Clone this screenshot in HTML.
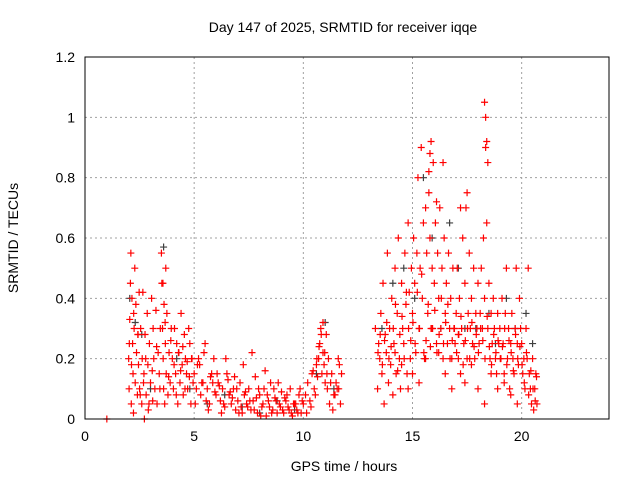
<!DOCTYPE html>
<html><head><meta charset="utf-8">
<style>
body{margin:0;background:#fff;}
svg{display:block;font-family:"Liberation Sans",sans-serif;}
</style></head>
<body>
<svg id="chart" width="640" height="480" viewBox="0 0 640 480" xmlns="http://www.w3.org/2000/svg">
<rect x="0" y="0" width="640" height="480" fill="#fff"/>
<text x="343" y="32" font-size="14" text-anchor="middle">Day 147 of 2025, SRMTID for receiver iqqe</text>
<text x="344" y="471" font-size="14" text-anchor="middle">GPS time / hours</text>
<text transform="translate(18,238) rotate(-90)" font-size="14" text-anchor="middle">SRMTID / TECUs</text>
<g id="grid"></g>
<g id="ticks"></g>
<g id="gray"></g>
<g id="red"></g>
<rect x="85" y="57" width="524" height="362" fill="none" stroke="#000" stroke-width="1"/>
</svg>
<script>
const xTicks=[0,5,10,15,20];
const xTickLabels=["0","5","10","15","20"];
const yTicks=[0,0.2,0.4,0.6,0.8,1,1.2];
const yTickLabels=["0","0.2","0.4","0.6","0.8","1","1.2"];
const redT=[1.0,
2.0,2.02,2.05,2.08,2.1,2.12,2.15,2.18,2.2,2.22,2.25,2.28,2.3,2.33,2.36,2.4,2.42,2.45,2.48,2.5,
2.55,2.6,2.62,2.65,2.7,2.72,2.75,2.8,2.85,2.88,2.9,2.95,3.0,3.05,3.1,3.12,3.15,3.2,3.25,3.3,3.35,3.4,3.45,
3.5,3.52,3.55,3.58,3.6,3.62,3.65,3.68,3.7,3.72,3.75,3.8,3.85,3.9,3.95,
4.0,4.05,4.1,4.15,4.2,4.25,4.3,4.35,4.4,4.45,4.5,4.55,4.6,4.65,4.7,4.75,4.8,4.85,4.9,4.95,
5.0,5.1,5.2,5.3,5.4,5.5,5.6,5.7,5.8,5.9,6.0,6.1,6.2,6.3,6.4,6.5,6.6,6.7,6.8,6.9,
7.0,7.1,7.2,7.3,7.4,7.5,7.6,7.7,7.8,7.9,8.0,8.1,8.2,8.3,8.4,8.5,8.6,8.7,8.8,8.9,9.0,9.1,9.2,9.3,9.4,9.5,9.6,9.7,9.8,9.9,
5.05,5.25,5.45,5.65,5.85,6.05,6.25,6.45,6.65,6.85,7.05,7.25,7.45,7.65,7.85,8.05,8.25,8.45,8.65,8.85,9.05,9.25,9.45,9.65,9.85,
10.0,10.1,10.2,10.3,10.4,10.5,10.6,10.7,10.75,10.8,10.85,10.9,10.95,11.0,11.05,11.1,11.2,11.3,11.4,11.5,11.6,11.7,11.75,
10.15,10.35,10.55,10.65,10.9,11.15,11.35,11.55,11.65,
13.3,13.4,13.45,13.5,13.55,13.6,13.65,13.7,13.75,13.8,13.85,13.9,13.95,14.0,14.05,14.1,14.15,14.2,14.25,14.3,14.35,14.4,14.45,14.5,14.55,14.6,14.65,14.7,14.75,14.8,14.85,14.9,14.95,
15.0,15.05,15.1,15.15,15.2,15.25,15.3,15.35,15.4,15.45,15.5,15.55,15.6,15.65,15.7,15.75,15.8,15.85,15.9,15.95,
16.0,16.05,16.1,16.15,16.2,16.25,16.3,16.35,16.4,16.45,16.5,16.55,16.6,16.65,16.7,16.75,16.8,16.85,16.9,16.95,
17.0,17.05,17.1,17.15,17.2,17.25,17.3,17.35,17.4,17.45,17.5,17.55,17.6,17.65,17.7,17.75,17.8,17.85,17.9,17.95,
18.0,18.05,18.1,18.15,18.2,18.25,18.3,18.35,18.4,18.45,18.5,18.55,18.6,18.65,18.7,18.75,18.8,18.85,18.9,18.95,
19.0,19.05,19.1,19.15,19.2,19.25,19.3,19.35,19.4,19.45,19.5,19.55,19.6,19.65,19.7,19.75,19.8,19.85,19.9,19.95,
20.0,20.05,20.1,20.15,20.2,20.25,20.3,20.35,20.4,20.45,20.5,20.55,20.6,20.65,20.7,
14.2,14.5,14.8,15.0,15.3,15.6,15.9,16.2,16.5,16.8,17.1,17.4,17.7,18.0,18.3,18.6,18.9,19.2,19.5,19.8,
15.75,15.8,15.85,16.1,16.4,17.2,17.5,18.3,18.35,18.4,18.45,
2.03,2.13,2.23,2.43,2.53,2.68,2.78,2.93,3.08,3.28,3.43,3.57,3.67,3.83,3.93,4.08,4.18,4.28,4.38,4.48,4.58,4.68,4.78,4.88,
5.15,5.35,5.55,5.75,5.95,6.15,6.35,6.55,6.75,6.95,7.15,7.35,7.55,7.75,7.95,8.15,8.35,8.55,8.75,8.95,9.15,9.35,9.55,9.75,9.95,
10.45,10.62,10.72,10.82,10.98,11.08,11.25,11.45,11.62,
13.42,13.52,13.62,13.72,13.82,13.92,14.02,14.12,14.22,14.32,14.42,14.52,14.62,14.72,14.82,14.92,
15.02,15.12,15.22,15.32,15.42,15.52,15.62,15.72,15.82,15.92,16.02,16.12,16.22,16.32,16.42,16.52,16.62,16.72,16.82,16.92,
17.02,17.12,17.22,17.32,17.42,17.52,17.62,17.72,17.82,17.92,18.02,18.12,18.22,18.32,18.42,18.52,18.62,18.72,18.82,18.92,
19.02,19.12,19.22,19.32,19.42,19.52,19.62,19.72,19.82,19.92,20.02,20.12,20.22,20.32,20.42,20.52,20.62,20.68];
const redV=[0,
0.2,0.1,0.33,0.45,0.55,0.05,0.4,0.25,0.15,0.02,0.3,0.5,0.12,0.38,0.22,0.08,0.28,0.18,0.42,0.1,
0.3,0.05,0.2,0.42,0.15,0.0,0.28,0.08,0.35,0.18,0.03,0.25,0.12,0.4,0.06,0.3,0.2,0.1,0.36,0.05,0.22,0.15,0.3,
0.55,0.45,0.3,0.2,0.1,0.38,0.05,0.25,0.5,0.15,0.35,0.08,0.22,0.12,0.3,
0.2,0.1,0.3,0.15,0.25,0.05,0.22,0.12,0.35,0.18,0.08,0.28,0.2,0.15,0.1,0.3,0.25,0.05,0.2,0.12,
0.15,0.1,0.2,0.08,0.12,0.25,0.1,0.05,0.15,0.2,0.08,0.12,0.06,0.1,0.04,0.15,0.08,0.05,0.1,0.03,
0.06,0.12,0.02,0.08,0.05,0.1,0.03,0.06,0.14,0.02,0.08,0.04,0.1,0.01,0.06,0.12,0.03,0.07,0.02,0.05,0.09,0.02,0.06,0.04,0.1,0.01,0.05,0.03,0.08,0.02,
0.05,0.18,0.22,0.03,0.12,0.15,0.02,0.2,0.09,0.14,0.02,0.18,0.04,0.22,0.07,0.01,0.16,0.04,0.1,0.12,0.03,0.08,0.02,0.05,0.1,
0.05,0.08,0.12,0.06,0.15,0.1,0.18,0.2,0.25,0.3,0.15,0.22,0.18,0.12,0.28,0.1,0.05,0.15,0.08,0.12,0.2,0.05,0.15,
0.02,0.04,0.08,0.14,0.32,0.2,0.03,0.1,0.18,
0.3,0.1,0.25,0.2,0.35,0.15,0.45,0.05,0.28,0.22,0.55,0.12,0.3,0.18,0.4,0.08,0.25,0.5,0.15,0.35,0.6,0.2,0.1,0.45,0.3,0.25,0.55,0.38,0.15,0.65,0.42,0.2,0.5,
0.35,0.6,0.45,0.22,0.55,0.8,0.3,0.5,0.9,0.4,0.65,0.2,0.7,0.55,0.35,0.75,0.6,0.3,0.5,0.85,
0.45,0.65,0.25,0.55,0.4,0.7,0.3,0.5,0.2,0.6,0.35,0.45,0.25,0.55,0.3,0.4,0.2,0.5,0.3,0.25,
0.35,0.5,0.2,0.4,0.15,0.3,0.6,0.25,0.45,0.7,0.2,0.35,0.55,0.3,0.4,0.25,0.5,0.2,0.35,0.3,
0.45,0.25,0.35,0.5,0.3,0.6,0.4,0.9,0.65,0.3,0.45,0.2,0.35,0.25,0.4,0.3,0.2,0.15,0.35,0.25,
0.3,0.2,0.4,0.25,0.15,0.35,0.5,0.2,0.3,0.1,0.25,0.35,0.2,0.15,0.3,0.5,0.25,0.18,0.4,0.3,
0.25,0.15,0.2,0.1,0.3,0.2,0.5,0.15,0.1,0.05,0.2,0.03,0.1,0.15,0.05,
0.22,0.18,0.1,0.15,0.12,0.2,0.3,0.22,0.15,0.1,0.28,0.12,0.18,0.1,0.05,0.15,0.1,0.12,0.08,0.05,
0.82,0.88,0.92,0.72,0.85,0.7,0.75,1.05,1.0,0.92,0.85,
0.25,0.18,0.35,0.28,0.08,0.12,0.2,0.05,0.16,0.24,0.1,0.45,0.32,0.14,0.26,0.18,0.08,0.22,0.16,0.24,0.1,0.19,0.14,0.2,
0.18,0.12,0.06,0.14,0.09,0.11,0.05,0.13,0.07,0.1,0.04,0.09,0.06,0.03,0.1,0.05,0.08,0.02,0.06,0.04,0.07,0.03,0.05,0.02,0.06,
0.16,0.2,0.24,0.28,0.22,0.15,0.12,0.08,0.1,
0.22,0.28,0.18,0.26,0.32,0.2,0.24,0.3,0.38,0.16,0.28,0.34,0.2,0.42,0.3,0.26,
0.32,0.25,0.42,0.3,0.48,0.22,0.26,0.38,0.24,0.3,0.36,0.22,0.28,0.4,0.25,0.32,0.38,0.2,0.26,0.3,
0.22,0.28,0.34,0.18,0.26,0.3,0.2,0.32,0.24,0.28,0.22,0.3,0.26,0.2,0.34,0.24,0.18,0.28,0.22,0.26,
0.2,0.24,0.3,0.18,0.26,0.22,0.16,0.28,0.2,0.24,0.18,0.12,0.22,0.08,0.16,0.1,0.06,0.14];
const grayT=[2.05,2.3,2.6,3.0,3.6,4.2,4.8,5.6,6.4,7.2,8.0,8.8,9.6,10.6,11.0,11.4,13.6,14.1,14.6,15.1,15.5,15.9,16.3,16.7,17.1,17.4,17.9,18.5,18.8,19.3,19.7,20.2,20.5];
const grayV=[0.4,0.32,0.28,0.1,0.57,0.2,0.1,0.05,0.08,0.04,0.02,0.06,0.03,0.15,0.32,0.1,0.3,0.45,0.5,0.4,0.8,0.6,0.3,0.65,0.5,0.3,0.3,0.35,0.25,0.4,0.3,0.35,0.25];
const X0=85,X1=609,Y0=419,Y1=57;
function sx(t){return X0+(t/24)*(X1-X0);}
function sy(v){return Y0-(v/1.2)*(Y0-Y1);}
const NS="http://www.w3.org/2000/svg";
const grid=document.getElementById('grid'),ticks=document.getElementById('ticks');
xTicks.forEach((t,i)=>{
  const x=sx(t);
  if(t>0){const l=document.createElementNS(NS,'line');
  
  
  l.setAttribute('x1',x);l.setAttribute('x2',x);l.setAttribute('y1',Y1);l.setAttribute('y2',Y0);
  l.setAttribute('stroke','#a0a0a0');l.setAttribute('stroke-dasharray','2,3');grid.appendChild(l);}
  const tx=document.createElementNS(NS,'text');
  
  
  tx.setAttribute('x',x);tx.setAttribute('y',Y0+22);tx.setAttribute('font-size','14');tx.setAttribute('text-anchor','middle');
  tx.textContent=xTickLabels[i];ticks.appendChild(tx);
});
yTicks.forEach((v,i)=>{
  const y=sy(v);
  if(v>0&&v<1.2){const l=document.createElementNS(NS,'line');
  
  
  l.setAttribute('x1',X0);l.setAttribute('x2',X1);l.setAttribute('y1',y);l.setAttribute('y2',y);
  l.setAttribute('stroke','#a0a0a0');l.setAttribute('stroke-dasharray','2,3');grid.appendChild(l);}
  const tx=document.createElementNS(NS,'text');
  
  
  tx.setAttribute('x',X0-10);tx.setAttribute('y',y+5);tx.setAttribute('font-size','14');tx.setAttribute('text-anchor','end');
  tx.textContent=yTickLabels[i];ticks.appendChild(tx);
});
function plot(gid,T,V,color,name){
  const g=document.getElementById(gid);
  T.forEach((t,i)=>{
    const x=sx(t),y=sy(V[i]);
    const p=document.createElementNS(NS,'path');
    
    
    p.setAttribute('d','M'+(x-3.5)+' '+y+'h7M'+x+' '+(y-3.5)+'v7');
    p.setAttribute('stroke',color);p.setAttribute('stroke-width','1.2');
    g.appendChild(p);
  });
}
plot('gray',grayT,grayV,'#404040','gray-point');
plot('red',redT,redV,'#ff0000','red-point');
</script>
</body></html>
